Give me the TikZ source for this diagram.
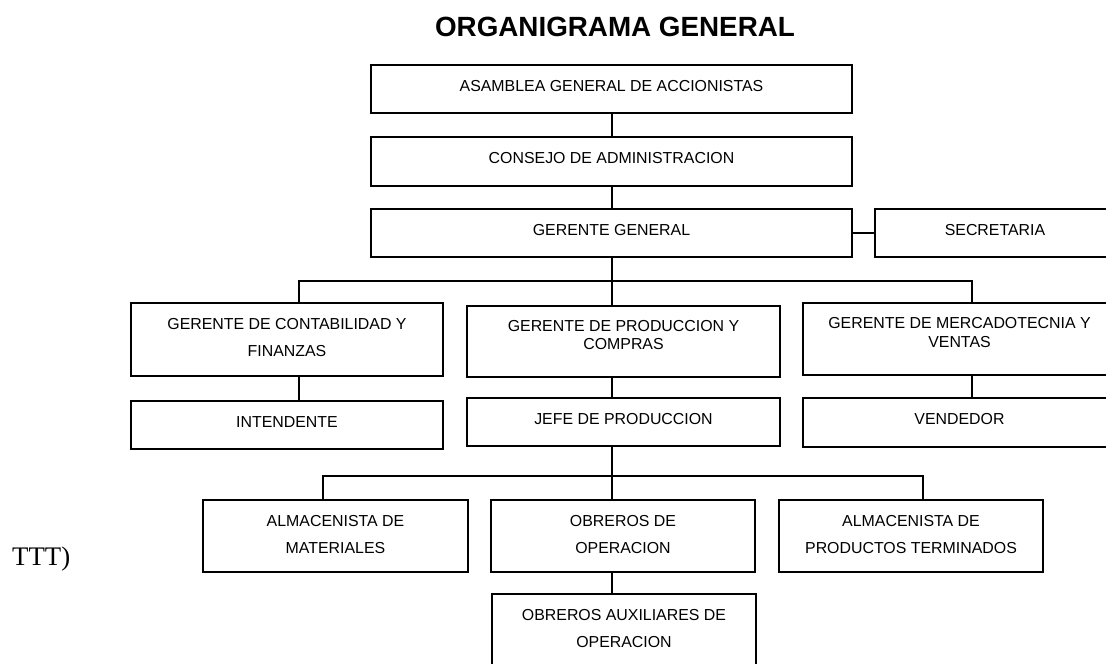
\documentclass[tikz,border=0pt]{standalone}
\usepackage{fontspec}
\newfontfamily\arialfont{Liberation Sans}
\newfontfamily\seriffont{Liberation Serif}
\begin{document}
\begin{tikzpicture}[x=1pt,y=-1pt,
  box/.style={draw, rectangle, line width=1.8pt, inner sep=0pt, outer sep=0pt,
    align=center, font=\arialfont\fontsize{15.9}{27}\selectfont, text depth=6.5pt},
  tallbox/.style={box, text depth=4pt},
  tightbox/.style={box, font=\arialfont\fontsize{15.9}{18.5}\selectfont, text depth=13.5pt},
  link/.style={draw, line width=1.8pt}]
\clip (0,0) rectangle (1106,664);

% title and side note
\node[font=\arialfont\bfseries\fontsize{27.8}{30}\selectfont, anchor=base, inner sep=0pt]
  (title) at (615,36) {ORGANIGRAMA GENERAL};
\node[font=\seriffont\fontsize{26.8}{30}\selectfont, anchor=base west, inner sep=0pt]
  (note) at (12,565) {TTT)};

% top levels
\node[box, minimum width=481pt, minimum height=48pt] (asam) at (611.5,89) {ASAMBLEA GENERAL DE ACCIONISTAS};
\node[box, minimum width=481pt, minimum height=49pt] (cons) at (611.5,161.5) {CONSEJO DE ADMINISTRACION};
\node[box, minimum width=481pt, minimum height=48pt] (gg) at (611.5,233) {GERENTE GENERAL};
\node[box, minimum width=240pt, minimum height=48pt] (sec) at (995,233) {SECRETARIA};

% managers
\node[tallbox, minimum width=312pt, minimum height=73pt] (cont) at (287,339.5) {GERENTE DE CONTABILIDAD Y\\FINANZAS};
\node[tightbox, minimum width=313pt, minimum height=71pt] (prod) at (623.5,341.5) {GERENTE DE PRODUCCION Y\\COMPRAS};
\node[tightbox, minimum width=313pt, minimum height=72pt] (merc) at (959.5,339) {GERENTE DE MERCADOTECNIA Y\\VENTAS};

\node[box, minimum width=312pt, minimum height=48pt] (int) at (287,425) {INTENDENTE};
\node[box, minimum width=313pt, minimum height=48pt] (jefe) at (623.5,422) {JEFE DE PRODUCCION};
\node[box, minimum width=313pt, minimum height=49pt] (vend) at (959.5,422.5) {VENDEDOR};

% production staff
\node[tallbox, minimum width=265pt, minimum height=72pt] (almm) at (335.5,536) {ALMACENISTA DE\\MATERIALES};
\node[tallbox, minimum width=264pt, minimum height=72pt] (obr) at (623,536) {OBREROS DE\\OPERACION};
\node[tallbox, minimum width=264pt, minimum height=72pt] (almp) at (911,536) {ALMACENISTA DE\\PRODUCTOS TERMINADOS};
\node[tallbox, minimum width=264pt, minimum height=72pt] (aux) at (624,630) {OBREROS AUXILIARES DE\\OPERACION};

% connector helpers
\coordinate (axis) at (612,0);
\coordinate (b1l) at (299,281);
\coordinate (b1r) at (972,281);
\coordinate (b2l) at (323,476);
\coordinate (b2r) at (923,476);

% connectors
\draw[link] (axis |- asam.south) -- (axis |- cons.north);
\draw[link] (axis |- cons.south) -- (axis |- gg.north);
\draw[link] (gg) -- (sec);
\draw[link] (axis |- gg.south) -- (axis |- prod.north);
\draw[link] (cont.north -| b1l) -- (b1l) -- (b1r) -- (merc.north -| b1r);
\draw[link] (cont.south -| b1l) -- (int.north -| b1l);
\draw[link] (axis |- prod.south) -- (axis |- jefe.north);
\draw[link] (merc.south -| b1r) -- (vend.north -| b1r);
\draw[link] (axis |- jefe.south) -- (axis |- obr.north);
\draw[link] (almm.north -| b2l) -- (b2l) -- (b2r) -- (almp.north -| b2r);
\draw[link] (axis |- obr.south) -- (axis |- aux.north);
\end{tikzpicture}
\end{document}
